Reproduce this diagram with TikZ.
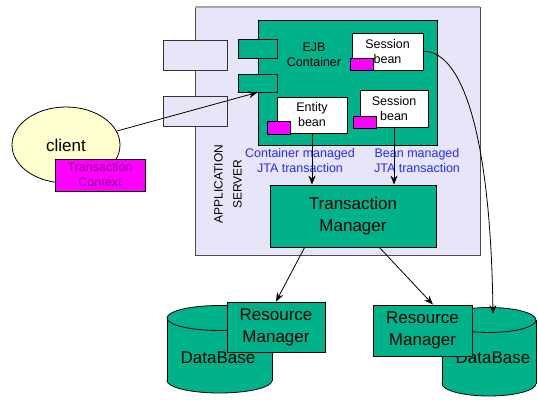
\documentclass[tikz,border=0pt]{standalone}
\usepackage{fontspec}
\setmainfont{Liberation Sans}
\usepackage{xcolor}
\usepackage{tikz}
\usetikzlibrary{shapes.geometric, arrows, arrows.meta}
\definecolor{ejbgreen}{RGB}{0,178,138}
\definecolor{srvlav}{RGB}{230,230,248}
\definecolor{tagpink}{RGB}{255,0,255}
\definecolor{ctxtext}{RGB}{140,0,140}
\definecolor{clientyellow}{RGB}{255,255,208}
\definecolor{jtablue}{RGB}{40,40,255}
\newcommand{\smalltxt}{\fontsize{12.5}{15}\selectfont}
\newcommand{\bigtxt}{\fontsize{17}{22}\selectfont}
\tikzstyle{box} = [rectangle,
inner sep=0pt,
align=center,
line width=0.8pt,
draw=black]
\tikzstyle{greenbox} = [box, fill=ejbgreen]
\tikzstyle{beanbox} = [box, fill=white, font=\smalltxt]
\tikzstyle{tag} = [box, fill=tagpink]
\tikzstyle{arrow} = [line width=0.8pt,->,>={Stealth[length=9pt,width=7pt]}]

\begin{document}
\begin{tikzpicture}[x=1pt,y=-1pt]
\useasboundingbox (0,0) rectangle (538,399);

% Serveur d'application (fond)
\draw[line width=0.8pt, draw=gray!60!black, fill=srvlav] (195,7) rectangle (480,255);
\draw[line width=2pt, gray!70] (195,7) -- (480,7);
\node[rotate=90, align=center, font=\fontsize{12}{19}\selectfont] (srvlabel) at (228,184) {APPLICATION\\SERVER};

% Boites a gauche
\node[box, fill=srvlav, draw=gray!40!black, minimum width=64pt, minimum height=30pt] (lbox1) at (195,55) {};
\node[box, fill=srvlav, draw=gray!40!black, minimum width=64pt, minimum height=30pt] (lbox2) at (195,111) {};

% Conteneur EJB
\node[greenbox, minimum width=179pt, minimum height=125pt] (ejb) at (347.5,82.5) {};
\node[font=\smalltxt, align=center] (ejblabel) at (314,55) {EJB\\Container};
\node[greenbox, minimum width=39pt, minimum height=19pt] (port1) at (257.5,48.5) {};
\node[greenbox, minimum width=39pt, minimum height=18pt] (port2) at (257.5,83) {};

% Beans
\node[beanbox, minimum width=71pt, minimum height=37pt] (sb1) at (387.5,51.5) {Session\\bean};
\node[tag, minimum width=23pt, minimum height=12pt] (tag1) at (361.5,64) {};
\node[beanbox, minimum width=70pt, minimum height=36pt] (eb) at (312,115) {Entity\\bean};
\node[tag, minimum width=23pt, minimum height=13pt] (tag2) at (278.5,127.5) {};
\node[beanbox, minimum width=68pt, minimum height=37pt] (sb2) at (394,108.5) {Session\\bean};
\node[tag, minimum width=23pt, minimum height=12pt] (tag3) at (364.5,122) {};

% Client
\node[ellipse, draw=black, line width=0.8pt, fill=clientyellow, minimum width=108pt, minimum height=76pt, font=\bigtxt] (client) at (66,145) {client};
\node[tag, minimum width=90pt, minimum height=32pt, text=ctxtext, font=\smalltxt] (ctx) at (100,175) {Transaction\\Context};

% Textes JTA
\node[font=\smalltxt, text=jtablue, align=center] (cmt) at (300,161) {Container managed\\JTA transaction};
\node[font=\smalltxt, text=jtablue, align=center] (bmt) at (417,161) {Bean managed\\JTA transaction};

% Transaction Manager
\node[greenbox, minimum width=166pt, minimum height=62pt, font=\bigtxt] (tm) at (353,216) {Transaction\\Manager};

% Bases de donnees
\draw[line width=0.8pt, fill=ejbgreen] (219.5,380.5) ellipse[x radius=52.5, y radius=12.5];
\fill[ejbgreen] (167,318) rectangle (272,380.5);
\draw[line width=0.8pt] (167,318) -- (167,380.5) (272,318) -- (272,380.5);
\draw[line width=0.8pt, fill=ejbgreen] (219.5,318) ellipse[x radius=52.5, y radius=12.5];
\node[font=\bigtxt] (dbltext) at (218,358) {DataBase};

\draw[line width=0.8pt, fill=ejbgreen] (489,383.5) ellipse[x radius=47, y radius=12.5];
\fill[ejbgreen] (442,320) rectangle (536,383.5);
\draw[line width=0.8pt] (442,320) -- (442,383.5) (536,320) -- (536,383.5);
\draw[line width=0.8pt, fill=ejbgreen] (489,320) ellipse[x radius=47, y radius=12.5];
\node[font=\bigtxt] (dbrtext) at (493,358) {DataBase};
\coordinate (dbrtop) at (493,314);

% Resource Managers
\node[greenbox, minimum width=98pt, minimum height=50pt, font=\bigtxt] (rml) at (276,327) {Resource\\Manager};
\node[greenbox, minimum width=99pt, minimum height=51pt, font=\bigtxt] (rmr) at (422.5,330.5) {Resource\\Manager};

% Fleches
\draw[arrow] (client) -- (port2.south);
\draw[arrow] (eb.south) -- (eb.south |- tm.north);
\draw[arrow] (sb2.south) -- (sb2.south |- tm.north);
\draw[arrow] (tm.213) -- (rml.north);
\draw[arrow] (tm.310) -- (rmr.68);
\draw[arrow] (sb1.east) .. controls (455,50) and (490,110) .. (dbrtop);

\end{tikzpicture}
\end{document}
